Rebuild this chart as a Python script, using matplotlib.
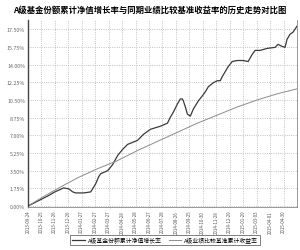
import matplotlib
matplotlib.use("Agg")
import matplotlib.pyplot as plt

plt.rcParams['font.family'] = ['Noto Sans CJK SC', 'DejaVu Sans']

# fund cumulative NAV growth (%), x = day index
fund_x = [0, 12, 20, 27, 36, 41, 45, 48, 56, 63, 68, 71, 73, 80, 85, 90, 95, 100,
          110, 116, 123, 133, 140, 143, 146, 150, 153, 155, 156, 158, 160, 163, 166,
          171, 175, 178, 181, 186, 190, 193, 195, 198, 201, 205, 210, 216, 221, 225,
          228, 233, 240, 248, 251, 255, 258, 260, 263, 266, 270]
fund_y = [0.0, 0.6, 1.0, 1.4, 1.8, 1.7, 1.4, 1.3, 1.3, 1.4, 2.2, 2.9, 3.2, 3.5, 4.1,
          5.0, 5.6, 6.1, 6.5, 7.1, 7.6, 7.9, 8.2, 8.8, 9.3, 10.1, 10.6, 10.6, 10.4, 9.8,
          9.1, 8.9, 9.6, 10.4, 10.9, 11.3, 11.8, 12.2, 12.4, 12.4, 12.8, 13.3, 13.8,
          14.3, 14.4, 14.4, 14.3, 15.0, 15.4, 15.4, 15.6, 15.7, 16.0, 15.8, 15.7, 16.5,
          17.0, 17.2, 17.8]

# benchmark cumulative return (%)
bench_x = [0, 15, 33, 50, 70, 90, 110, 130, 150, 170, 190, 210, 230, 250, 270]
bench_y = [0.0, 0.9, 1.9, 2.8, 3.7, 4.5, 5.5, 6.4, 7.3, 8.2, 9.0, 9.8, 10.5, 11.1, 11.6]

tick_labels = ['2013-09-24', '2013-10-25', '2013-11-26', '2013-12-26', '2014-01-27',
               '2014-02-27', '2014-03-27', '2014-04-28', '2014-05-28', '2014-06-27',
               '2014-07-28', '2014-08-26', '2014-09-25', '2014-10-30', '2014-11-28',
               '2014-12-29', '2015-01-29', '2015-03-03', '2015-04-01', '2015-04-30']
y_ticks = [0, 1.75, 3.5, 5.25, 7.0, 8.75, 10.5, 12.25, 14.0, 15.75, 17.5]

fig = plt.figure(figsize=(3.0, 2.51), dpi=100)
ax = fig.add_axes([0.093, 0.171, 0.897, 0.745])

ax.plot(fund_x, fund_y, color='#3a3a3a', lw=0.9, label='A级基金份额累计净值增长率')
ax.plot(bench_x, bench_y, color='#8c8c8c', lw=0.7, label='A级业绩比较基准累计收益率')

ax.set_xlim(0, 270)
ax.set_ylim(-0.1, 18.4)
ax.set_yticks(y_ticks)
ax.set_yticklabels(['%.2f%%' % v for v in y_ticks], fontsize=3.8, color='#666666')
ax.set_xticks([i * 13.5 for i in range(len(tick_labels))])
ax.set_xticklabels(tick_labels, rotation=90, fontsize=3.2, color='#555555')
ax.tick_params(length=0, pad=2)
ax.grid(True, color='#b0b0b0', ls=':', lw=0.6)
for s in ax.spines.values():
    s.set_color('#888888')
    s.set_linewidth(0.6)
ax.spines['left'].set_color('#444444')
ax.spines['left'].set_linewidth(1.0)
ax.spines['top'].set_visible(False)

fig.text(0.5, 0.96, 'A级基金份额累计净值增长率与同期业绩比较基准收益率的历史走势对比图',
         ha='center', va='center', fontsize=6.0, fontweight='bold')

leg = fig.legend(loc='center', bbox_to_anchor=(0.55, 0.04), ncol=2, fontsize=4.2,
                 frameon=True, fancybox=False, handlelength=2.2, columnspacing=1.2,
                 borderpad=0.4, handletextpad=0.4)
leg.get_frame().set_edgecolor('#444444')
leg.get_frame().set_linewidth(0.6)

fig.savefig('out.png', dpi=100)
